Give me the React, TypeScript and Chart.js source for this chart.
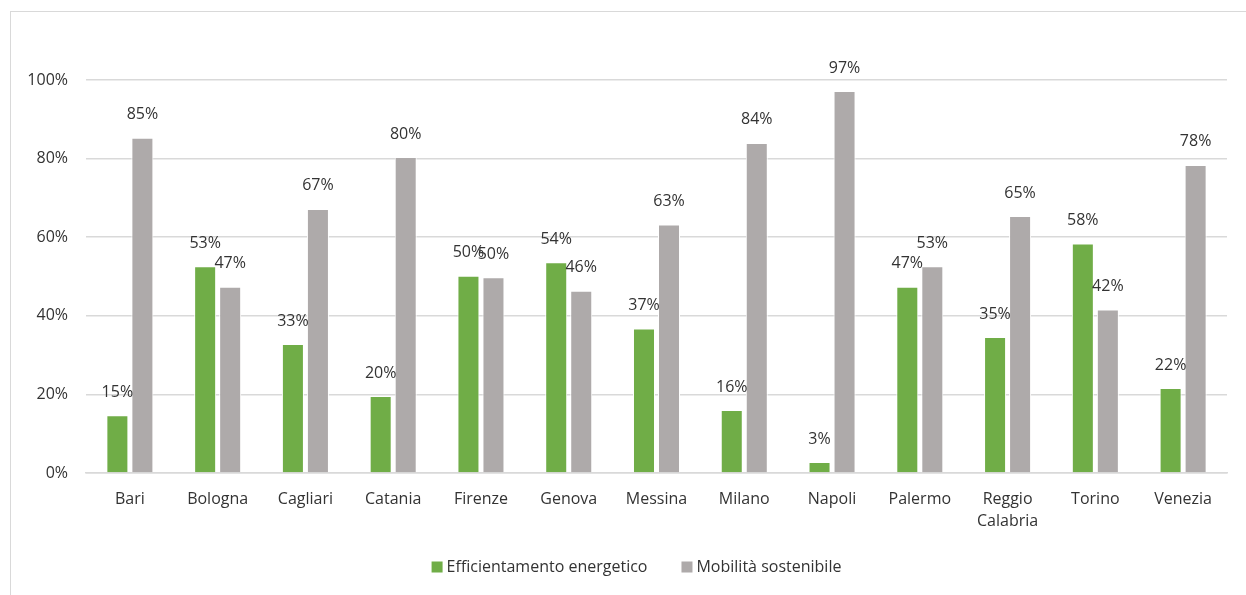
import React, { useEffect, useRef } from "react";
import { Chart, registerables } from "chart.js";

Chart.register(...registerables);

const categories: (string | string[])[] = [
  "Bari", "Bologna", "Cagliari", "Catania", "Firenze", "Genova", "Messina",
  "Milano", "Napoli", "Palermo", ["Reggio", "Calabria"], "Torino", "Venezia",
];
const efficientamento = [14.7, 52.6, 32.8, 19.6, 50.2, 53.6, 36.8, 16.0, 2.8, 47.4, 34.6, 58.4, 21.6];
const mobilita = [85.3, 47.4, 67.2, 80.4, 49.8, 46.4, 63.2, 84.0, 97.2, 52.6, 65.4, 41.6, 78.4];
const seriesNames = ["Efficientamento energetico", "Mobilità sostenibile"];
const seriesColors = ["#70AD47", "#AEAAAA"];
const yTicks = [0, 20, 40, 60, 80, 100];

const FONT = "'Open Sans'";
const SIZE = 16;
const TEXT = "#333333";

const labelPlugin = {
  id: "valueLabels",
  afterDatasetsDraw(chart: any) {
    const ctx = chart.ctx;
    ctx.save();
    ctx.font = `${SIZE}px ${FONT}`;
    ctx.fillStyle = TEXT;
    ctx.textAlign = "center";
    ctx.textBaseline = "middle";
    chart.data.datasets.forEach((ds: any, di: number) => {
      const meta = chart.getDatasetMeta(di);
      meta.data.forEach((el: any, i: number) => {
        const v = ds.data[i];
        ctx.fillText(Math.round(v) + "%", el.x, el.y - 23);
      });
    });
    ctx.restore();
  },
};

const legendPlugin = {
  id: "bottomLegend",
  afterDraw(chart: any) {
    const ctx = chart.ctx;
    ctx.save();
    ctx.font = `${SIZE}px ${FONT}`;
    const box = 11, gap = 4, spacing = 34;
    const widths = seriesNames.map((n) => ctx.measureText(n).width);
    const total = widths.reduce((a, w) => a + box + gap + w, 0) + spacing * (seriesNames.length - 1);
    const cx = 636.5, cy = 567;
    let x = cx - total / 2;
    ctx.textBaseline = "middle";
    ctx.textAlign = "left";
    seriesNames.forEach((n, i) => {
      ctx.fillStyle = seriesColors[i];
      ctx.fillRect(x, cy - box / 2, box, box);
      x += box + gap;
      ctx.fillStyle = TEXT;
      ctx.fillText(n, x, cy);
      x += widths[i] + spacing;
    });
    ctx.restore();
  },
};

export default function App() {
  const ref = useRef<HTMLCanvasElement>(null);
  useEffect(() => {
    if (!ref.current) return;
    const chart = new Chart(ref.current, {
      type: "bar",
      data: {
        labels: categories,
        datasets: [
          {
            label: seriesNames[0],
            data: efficientamento,
            backgroundColor: seriesColors[0],
            borderColor: "#ffffff",
            borderWidth: 1,
            categoryPercentage: 0.57,
            barPercentage: 0.88,
          },
          {
            label: seriesNames[1],
            data: mobilita,
            backgroundColor: seriesColors[1],
            borderColor: "#ffffff",
            borderWidth: 1,
            categoryPercentage: 0.57,
            barPercentage: 0.88,
          },
        ],
      },
      options: {
        animation: false,
        responsive: false,
        maintainAspectRatio: false,
        layout: { padding: { top: 80, right: 19, left: 0, bottom: 42 } },
        plugins: {
          legend: { display: false },
          tooltip: { enabled: false },
        },
        scales: {
          x: {
            afterFit: (s: any) => { s.height = 80; },
            grid: { display: false, drawTicks: false },
            border: { display: true, color: "#d9d9d9", width: 1.5 },
            ticks: {
              font: { family: FONT, size: SIZE, lineHeight: 1.4 },
              color: TEXT,
              padding: 15,
              maxRotation: 0,
              autoSkip: false,
            },
          },
          y: {
            min: 0,
            max: 100,
            afterFit: (s: any) => { s.width = 86; },
            afterBuildTicks: (s: any) => { s.ticks = yTicks.map((v) => ({ value: v })); },
            grid: { color: "#d9d9d9", lineWidth: 1.5, drawTicks: false },
            border: { display: false },
            ticks: {
              font: { family: FONT, size: SIZE },
              color: TEXT,
              padding: 18,
              callback: (v: any) => v + "%",
            },
          },
        },
      },
      plugins: [labelPlugin, legendPlugin],
    });
    return () => chart.destroy();
  }, []);
  return (
    <>
      <div
        style={{
          position: "absolute",
          left: 10,
          top: 11,
          width: 1236,
          height: 584,
          borderTop: "1.5px solid #d9d9d9",
          borderLeft: "1.5px solid #d9d9d9",
          boxSizing: "border-box",
        }}
      />
      <canvas
        ref={ref}
        width={1246}
        height={595}
        style={{ position: "absolute", left: 0, top: 0, width: 1246, height: 595 }}
      />
    </>
  );
}
